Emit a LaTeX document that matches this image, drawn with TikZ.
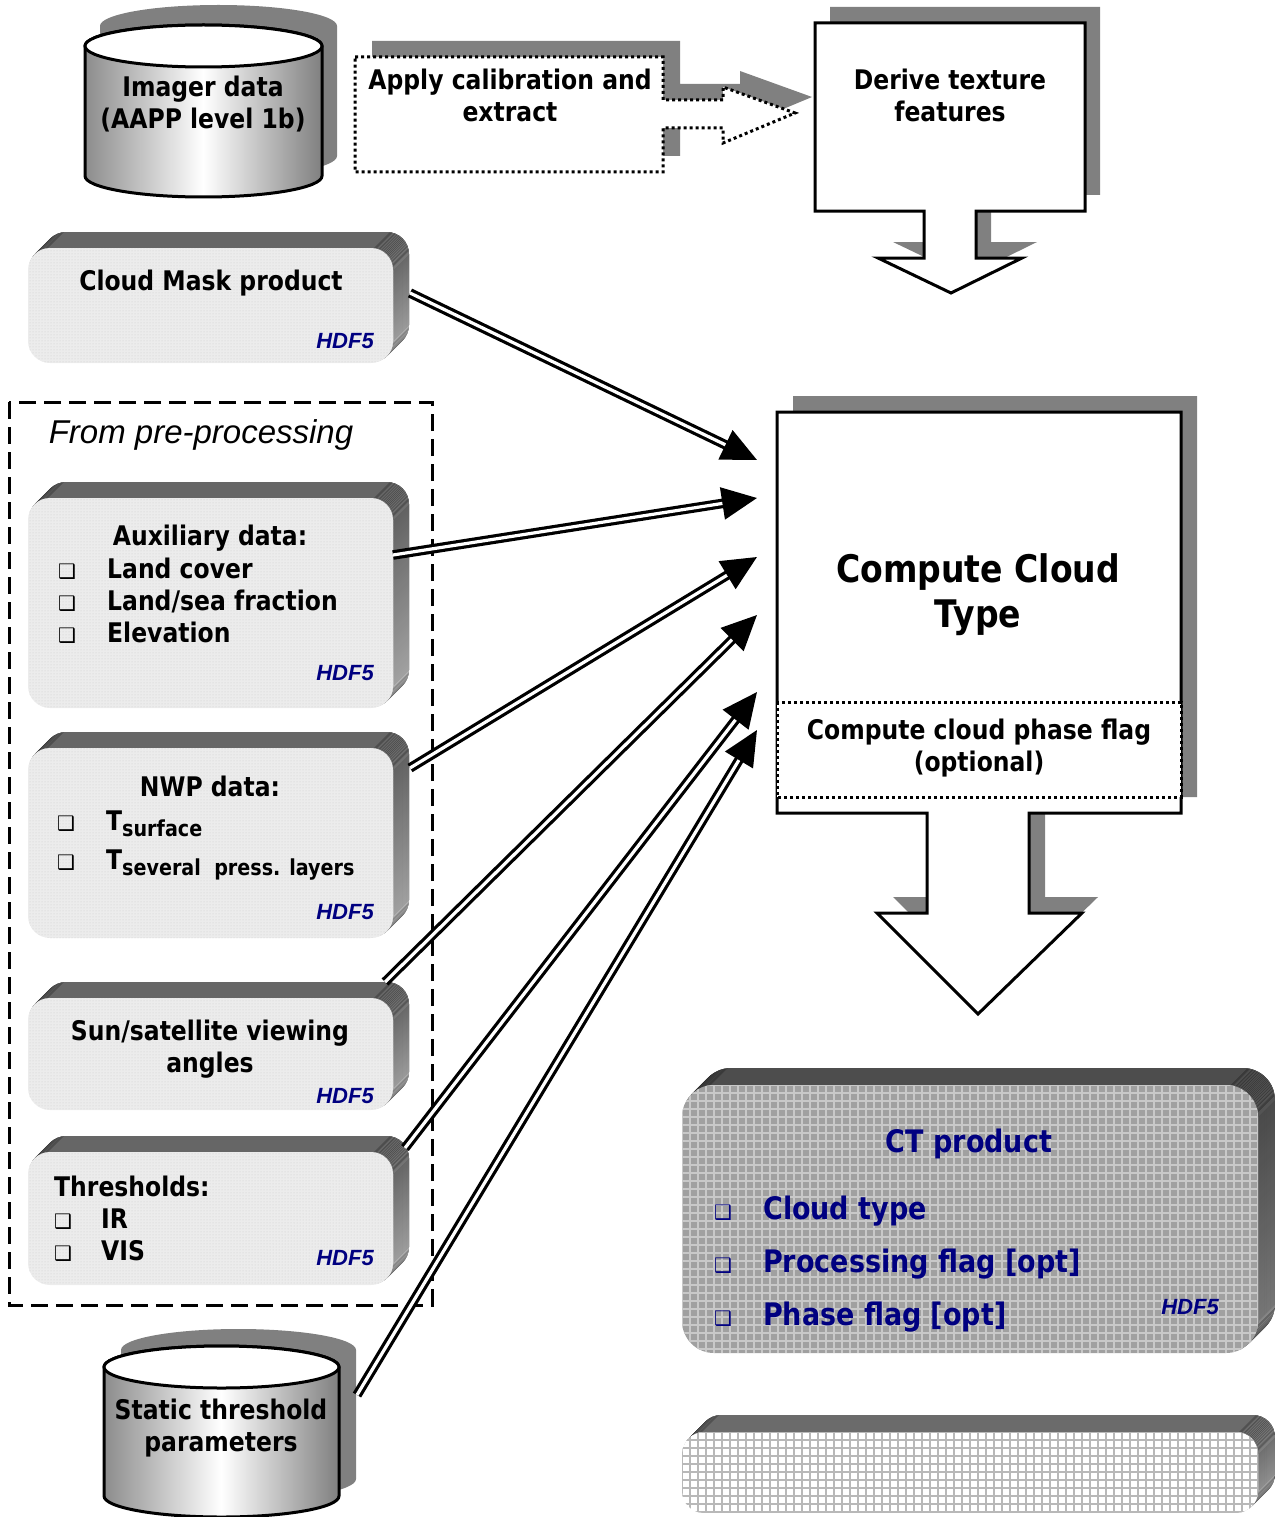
\documentclass[tikz,border=0pt]{standalone}
\usepackage{fontspec}
\setmainfont{DejaVu Sans}[FakeStretch=0.87]
\newfontfamily\arialf{Liberation Sans}
\newfontfamily\symf{DejaVu Sans}
\usetikzlibrary{patterns,arrows.meta,calc}
\definecolor{navyc}{RGB}{0,0,128}
\definecolor{shad}{RGB}{128,128,128}
\definecolor{frontgray}{RGB}{236,236,236}
\definecolor{ctgray}{RGB}{160,160,160}
\definecolor{ctline}{RGB}{200,200,200}
\newcommand\bul[1]{\makebox[#1pt][l]{\symf\fontsize{20}{20}\selectfont ❑}}
\newcommand\subtx[1]{\raisebox{-6pt}{\fontsize{22}{24}\selectfont #1}}
% extruded rounded box: x0 y0 x1 y1 depth radius topcolor bottomcolor
\newcommand\extrude[8]{%
  \foreach \k in {#5,...,1} {
    \fill[rounded corners=#6pt, top color=#7, bottom color=#8] ({#1+\k},{#2-\k}) rectangle ({#3+\k},{#4-\k});
  }%
}
% grid inside a rounded box: x0 y0 x1 y1 radius colour
\newcommand\meshgrid[6]{%
  \begin{scope}
    \clip[rounded corners=#5pt] (#1,#2) rectangle (#3,#4);
    \foreach \xx in {0,8,...,600} { \draw[#6, line width=1.8pt] ({#1+\xx},#2) -- ({#1+\xx},#4); }
    \foreach \yy in {0,8,...,280} { \draw[#6, line width=1.8pt] (#1,{#2+\yy}) -- (#3,{#2+\yy}); }
  \end{scope}%
}
% cylinder body: cx ytop ybot rx ry style
\newcommand\cylbody[6]{%
  \path[#6] ({#1-#4},#2) -- ({#1-#4},#3) arc[start angle=180,end angle=360,x radius=#4pt,y radius=#5pt]
    -- ({#1+#4},#2) arc[start angle=0,end angle=180,x radius=#4pt,y radius=#5pt] -- cycle;
}
\tikzset{
  txt/.style={font=\fontsize{27}{32}\selectfont\bfseries, align=center, inner sep=0pt},
  listtxt/.style={font=\fontsize{27}{32}\selectfont\bfseries, align=left, inner sep=0pt, anchor=west},
  hdf/.style={font=\fontsize{22}{24}\selectfont\arialf\bfseries\itshape, text=navyc, inner sep=0pt, anchor=east},
  feed/.style={draw=black, double=white, line width=3.2pt, double distance=3.2pt, -{Triangle[length=35pt,width=32pt]}},
  blockshadow/.style={fill=shad},
  blockmain/.style={fill=white, draw=black, line width=3pt, line join=miter},
  dotline/.style={line width=3pt, dash pattern=on 3pt off 3pt},
  cylshade/.style={left color=black!45, right color=black!50, middle color=white, draw=black, line width=3pt},
  cylshadow/.style={fill=shad},
}
\begin{document}
\begin{tikzpicture}[x=1pt,y=-1pt]
\useasboundingbox (0,0) rectangle (1274,1517);

% ---------- Imager data cylinder ----------
\cylbody{218.5}{26}{156}{118.5}{21}{cylshadow}
\cylbody{203.5}{46}{176}{118.5}{21}{cylshade}
\draw[fill=white, line width=3pt] (203.5,46) ellipse[x radius=118.5pt, y radius=21pt];
\node[txt] (imager) at (203,104) {Imager data\\(AAPP level 1b)};

% ---------- Apply calibration block arrow ----------
\fill[blockshadow, shift={(17,-16)}] (355,57) -- (663,57) -- (663,100) -- (723,100) -- (723,87) -- (795,113)
  -- (723,143) -- (723,128) -- (663,128) -- (663,172) -- (355,172) -- cycle;
\draw[fill=white, dotline] (355,57) -- (663,57) -- (663,100) -- (723,100) -- (723,87) -- (795,113)
  -- (723,143) -- (723,128) -- (663,128) -- (663,172) -- (355,172) -- cycle;
\node[txt] (apply) at (510,95) {Apply calibration and\\extract};

% ---------- Derive texture block ----------
\fill[blockshadow, shift={(15,-16)}] (815,23) -- (1085,23) -- (1085,211) -- (976,211) -- (976,258) -- (1022,258)
  -- (951,293) -- (878,258) -- (924,258) -- (924,211) -- (815,211) -- cycle;
\draw[blockmain] (815,23) -- (1085,23) -- (1085,211) -- (976,211) -- (976,258) -- (1022,258)
  -- (951,293) -- (878,258) -- (924,258) -- (924,211) -- (815,211) -- cycle;
\node[txt] (derive) at (950,95) {Derive texture\\features};

% ---------- Cloud Mask product ----------
\extrude{28}{248}{393}{363}{16}{22}{black!60}{black!25}
\fill[rounded corners=22pt, frontgray] (28,248) rectangle (393,363);
\fill[rounded corners=22pt, pattern=dots, pattern color=gray!40] (28,248) rectangle (393,363);
\node[txt] (cmask) at (211,283) {Cloud Mask product};
\node[hdf] (cmask-f) at (374,341) {HDF5};

% ---------- Pre-processing frame ----------
\draw[line width=3pt, dash pattern=on 17pt off 8pt] (9,402) rectangle (432,1305);
\node[font=\fontsize{33}{36}\selectfont\arialf\itshape, inner sep=0pt] (prep) at (201,435) {From pre-processing};

% Auxiliary
\extrude{28}{498}{393}{708}{16}{22}{black!60}{black!25}
\fill[rounded corners=22pt, frontgray] (28,498) rectangle (393,708);
\fill[rounded corners=22pt, pattern=dots, pattern color=gray!40] (28,498) rectangle (393,708);
\node[txt] (aux) at (210,538) {Auxiliary data:};
\node[listtxt] (aux-list) at (58,601) {\bul{49}Land cover\\ \bul{49}Land/sea fraction\\ \bul{49}Elevation};
\node[hdf] (aux-f) at (374,673) {HDF5};

% NWP
\extrude{28}{748}{393}{938}{16}{22}{black!60}{black!25}
\fill[rounded corners=22pt, frontgray] (28,748) rectangle (393,938);
\fill[rounded corners=22pt, pattern=dots, pattern color=gray!40] (28,748) rectangle (393,938);
\node[txt] (nwp) at (210,786) {NWP data:};
\node[listtxt] (nwp-list) at (57,846) {\bul{49}T\subtx{surface}\\[7pt] \bul{49}T\subtx{several\ \ press. layers}};
\node[hdf] (nwp-f) at (374,912) {HDF5};

% Sun/satellite
\extrude{28}{998}{393}{1110}{16}{22}{black!60}{black!25}
\fill[rounded corners=22pt, frontgray] (28,998) rectangle (393,1110);
\fill[rounded corners=22pt, pattern=dots, pattern color=gray!40] (28,998) rectangle (393,1110);
\node[txt] (sun) at (210,1049) {Sun/satellite viewing\\angles};
\node[hdf] (sun-f) at (374,1096) {HDF5};

% Thresholds
\extrude{28}{1152}{393}{1285}{16}{22}{black!60}{black!25}
\fill[rounded corners=22pt, frontgray] (28,1152) rectangle (393,1285);
\fill[rounded corners=22pt, pattern=dots, pattern color=gray!40] (28,1152) rectangle (393,1285);
\node[listtxt] (thr) at (54,1219) {Thresholds:\\ \bul{47}IR\\ \bul{47}VIS};
\node[hdf] (thr-f) at (374,1258) {HDF5};

% ---------- Static threshold cylinder ----------
\cylbody{238.5}{1350}{1479}{117.5}{21}{cylshadow}
\cylbody{221.5}{1367}{1496}{117.5}{21}{cylshade}
\draw[fill=white, line width=3pt] (221.5,1367) ellipse[x radius=117.5pt, y radius=21pt];
\node[txt] (static) at (221,1428) {Static threshold\\parameters};

% ---------- Compute Cloud Type ----------
\fill[blockshadow, shift={(16,-16)}] (777,412) -- (1181,412) -- (1181,813) -- (1029,813) -- (1029,913) -- (1082,913)
  -- (978,1014) -- (877,913) -- (927,913) -- (927,813) -- (777,813) -- cycle;
\draw[blockmain] (777,412) -- (1181,412) -- (1181,813) -- (1029,813) -- (1029,913) -- (1082,913)
  -- (978,1014) -- (877,913) -- (927,913) -- (927,813) -- (777,813) -- cycle;
\draw[fill=white, dotline] (777,702) rectangle (1181,797);
\node[font=\fontsize{38}{45}\selectfont\bfseries, align=center, inner sep=0pt] (ctype) at (978,595) {Compute Cloud\\Type};
\node[txt] (phase) at (979,748) {Compute cloud phase flag\\(optional)};

% ---------- CT product ----------
\extrude{682}{1085}{1258}{1353}{17}{32}{black!70}{black!45}
\fill[rounded corners=32pt, ctgray] (682,1085) rectangle (1258,1353);
\meshgrid{682}{1085}{1258}{1353}{32}{ctline}
\node[font=\fontsize{31}{36}\selectfont\bfseries, text=navyc, inner sep=0pt] (ctp) at (969,1144) {CT product};
\node[font=\fontsize{31}{53}\selectfont\bfseries, text=navyc, align=left, anchor=west, inner sep=0pt] (ct-list) at (714,1264)
  {\bul{49}Cloud type\\ \bul{49}Processing flag [opt]\\ \bul{49}Phase flag [opt]};
\node[hdf, anchor=center] (ct-f) at (1190,1307) {HDF5};

% ---------- bottom box ----------
\extrude{682}{1432}{1258}{1513}{17}{22}{black!58}{black!30}
\fill[rounded corners=22pt, white] (682,1432) rectangle (1258,1513);
\meshgrid{682}{1432}{1258}{1513}{22}{black!28}

% ---------- feed arrows ----------
\coordinate (o1) at (410,293);   \coordinate (i1) at (757,460);
\coordinate (o2) at (393,555);   \coordinate (i2) at (757,498);
\coordinate (o3) at (410,768);   \coordinate (i3) at (757,557);
\coordinate (o4) at (385,982);   \coordinate (i4) at (757,615);
\coordinate (o5) at (405,1148);  \coordinate (i5) at (757,692);
\coordinate (o6) at (357,1395);  \coordinate (i6) at (757,730);
\draw[feed] (o1) -- (i1);
\draw[feed] (o2) -- (i2);
\draw[feed] (o3) -- (i3);
\draw[feed] (o4) -- (i4);
\draw[feed] (o5) -- (i5);
\draw[feed] (o6) -- (i6);
\end{tikzpicture}
\end{document}
